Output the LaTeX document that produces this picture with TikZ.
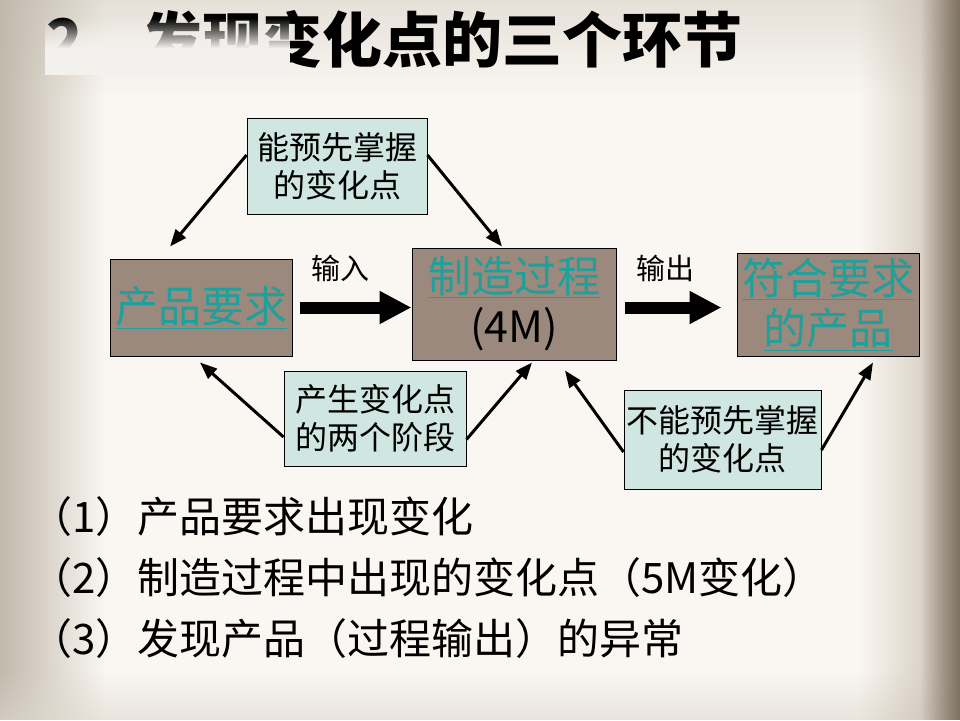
\documentclass[tikz,border=0pt]{standalone}
\usepackage{fontspec}
\setmainfont{Noto Sans CJK SC}
\usetikzlibrary{arrows.meta,calc,fadings}
\definecolor{bgmain}{HTML}{FAF7F2}
\definecolor{bgside}{HTML}{DDD7CE}
\definecolor{edgeL}{HTML}{C2B9AC}
\definecolor{edgeR1}{HTML}{C9BEB0}
\definecolor{edgeR2}{HTML}{7E7163}
\definecolor{patchcol}{HTML}{F3F1EE}
\definecolor{brownfill}{HTML}{9A897C}
\definecolor{greenfill}{HTML}{CFE6E1}
\definecolor{tealtext}{HTML}{1FA09A}
\tikzfading[name=patchfade, top color=transparent!100, bottom color=transparent!0]
\tikzset{
  brownbox/.style={draw=black, line width=1pt, fill=brownfill, inner sep=0pt,
    align=center, text=tealtext, font=\fontsize{43}{50}\selectfont},
  greenbox/.style={draw=black, line width=0.9pt, fill=greenfill, inner sep=0pt,
    align=center, text=black, font=\fontsize{32}{38}\selectfont},
  thinarrow/.style={draw=black, line width=3pt, -{Triangle[length=17pt,width=13pt]}},
  bigarrow/.style={draw=black, line width=12pt, -{Triangle[length=32pt,width=31pt]}},
  flowlabel/.style={inner sep=0pt, font=\fontsize{29}{32}\selectfont},
  listline/.style={inner sep=0pt, anchor=base west, font=\fontsize{42}{46}\selectfont},
}
\begin{document}
\begin{tikzpicture}[x=1pt,y=-1pt]
\useasboundingbox (0,0) rectangle (960,720);
% background
\fill[bgmain] (0,0) rectangle (960,720);
\fill[bgside, opacity=0.7, path fading=south] (0,0) rectangle (960,95);
\fill[edgeL, path fading=east] (0,0) rectangle (105,720);
\fill[bgside, opacity=0.6, path fading=north] (0,670) rectangle (960,720);
\fill[edgeR1, path fading=west] (860,0) rectangle (960,720);
\fill[edgeR2, path fading=west] (920,0) rectangle (960,720);
% title
\node[inner sep=0pt, anchor=base west, font=\fontsize{60}{64}\selectfont\bfseries] (title) at (46,62) {2、发现变化点的三个环节};
\fill[patchcol, path fading=patchfade] (45,18) rectangle (290,48);
\fill[patchcol] (45,48) rectangle (290,75);
% main boxes
\node[brownbox, minimum width=182pt, minimum height=97pt] (A) at (201,307.5) {\underline{产品要求}};
\node[brownbox, minimum width=204pt, minimum height=112pt] (B) at (514,304) {\underline{制造过程}\\\textcolor{black}{(4M)}};
\node[brownbox, minimum width=182pt, minimum height=103pt] (C) at (828,304.5) {\underline{符合要求}\\\underline{的产品}};
% note boxes
\node[greenbox, minimum width=180pt, minimum height=96pt] (D) at (337,166) {能预先掌握\\的变化点};
\node[greenbox, minimum width=182pt, minimum height=95pt] (E) at (375,418.5) {产生变化点\\的两个阶段};
\node[greenbox, minimum width=197pt, minimum height=99pt] (F) at (722.5,439.5) {不能预先掌握\\的变化点};
% flow labels
\node[flowlabel] (lin) at (340,268) {输入};
\node[flowlabel] (lout) at (665,268) {输出};
% big arrows
\draw[bigarrow] ($(A.east)+(7,0)$) -- (A.east -| B.west);
\draw[bigarrow] ($(B.east)+(8,3.5)$) -- ($(C.west)+(-15,3)$);
% thin arrows
\draw[thinarrow] ($(D.west)+(0,-11)$) -- ($(A.north)+(-31,-12)$);
\draw[thinarrow] ($(D.east)+(0,-11)$) -- ($(B.north)+(-12,-1)$);
\draw[thinarrow] ($(E.west)+(0,18.5)$) -- ($(A.south)+(-1,6)$);
\draw[thinarrow] ($(E.east)+(0,21)$) -- ($(B.south)+(18,2)$);
\draw[thinarrow] ($(F.west)+(0,12.5)$) -- ($(B.south)+(51,10)$);
\draw[thinarrow] ($(F.east)+(0,10.5)$) -- ($(C.south)+(45,6)$);
% list
\node[listline] (l1) at (30,532) {（1）产品要求出现变化};
\node[listline] (l2) at (30,593) {（2）制造过程中出现的变化点（5M变化）};
\node[listline] (l3) at (30,654) {（3）发现产品（过程输出）的异常};
\end{tikzpicture}
\end{document}
